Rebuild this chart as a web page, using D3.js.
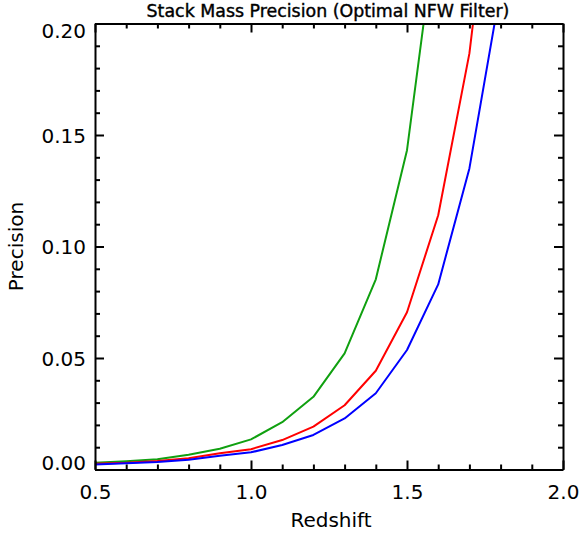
<!DOCTYPE html>
<html>
<head>
<meta charset="utf-8">
<script src="https://cdn.jsdelivr.net/npm/d3@7"></script>
<style>
  html, body { margin: 0; padding: 0; background: #fff; }
  svg { display: block; }
  text { font-family: "DejaVu Sans", sans-serif; fill: #000; }
</style>
</head>
<body>
<svg id="chart" width="581" height="533"></svg>
<script>
// ---- data ----
const redshift = [0.5, 0.6, 0.7, 0.8, 0.9, 1.0, 1.1, 1.2, 1.3, 1.4, 1.5, 1.6, 1.7, 1.8];
const greenPrecision = [0.0030, 0.0037, 0.0046, 0.0066, 0.0093, 0.0135, 0.0212, 0.0326, 0.0521, 0.0853, 0.1432, 0.2500];
const redPrecision   = [0.0026, 0.0030, 0.0038, 0.0050, 0.0073, 0.0091, 0.0132, 0.0192, 0.0288, 0.0443, 0.0705, 0.1140, 0.1866, 0.3030];
const bluePrecision  = [0.0022, 0.0028, 0.0034, 0.0044, 0.0062, 0.0077, 0.0110, 0.0155, 0.0229, 0.0342, 0.0536, 0.0830, 0.1350, 0.2155];
const xMajorTicks = [0.5, 1.0, 1.5, 2.0];
const xTickLabels = ["0.5", "1.0", "1.5", "2.0"];
const yMajorTicks = [0.00, 0.05, 0.10, 0.15, 0.20];
const yTickLabels = ["0.00", "0.05", "0.10", "0.15", "0.20"];
const titleText = "Stack Mass Precision (Optimal NFW Filter)";
const xTitle = "Redshift";
const yTitle = "Precision";

const seriesList = [
  { name: "green", values: greenPrecision, color: "#10a010" },
  { name: "red",   values: redPrecision,   color: "#ff0000" },
  { name: "blue",  values: bluePrecision,  color: "#0000ff" }
];

// ---- layout ----
const L = 95, R = 563, T = 23.5, B = 469.5;
const svg = d3.select("#chart");
const x = d3.scaleLinear().domain([0.5, 2.0]).range([L, R]);
const y = d3.scaleLinear().domain([0, 0.2]).range([B, T]);

const xMinor = d3.range(0.5, 2.0001, 0.1).map(v => +v.toFixed(2)).filter(v => !xMajorTicks.includes(v));
const yMinor = d3.range(0, 0.2001, 0.01).map(v => +v.toFixed(3)).filter(v => !yMajorTicks.some(m => Math.abs(m - v) < 1e-9));

svg.append("defs").append("clipPath").attr("id", "plotclip")
  .append("rect").attr("x", L).attr("y", T).attr("width", R - L).attr("height", B - T);

// data lines
const line = d3.line().x((d, i) => x(redshift[i])).y(d => y(d));
const gLines = svg.append("g").attr("clip-path", "url(#plotclip)");
seriesList.forEach(s => {
  gLines.append("path").datum(s.values)
    .attr("d", line)
    .attr("fill", "none")
    .attr("stroke", s.color)
    .attr("stroke-width", 2)
    .attr("stroke-linejoin", "round");
});

function styleAxis(g) {
  g.selectAll("path.domain").attr("stroke", "#000").attr("stroke-width", 2);
  g.selectAll(".tick line").attr("stroke", "#000").attr("stroke-width", 2);
  g.selectAll("text").attr("font-size", 20).attr("font-family", "DejaVu Sans, sans-serif");
}

// bottom axis
const gBottom = svg.append("g").attr("transform", `translate(0,${B})`)
  .call(d3.axisBottom(x).tickValues(xMajorTicks).tickSize(-9).tickSizeOuter(0).tickPadding(15)
    .tickFormat((d, i) => xTickLabels[i]));
styleAxis(gBottom);
svg.append("g").attr("transform", `translate(0,${B})`)
  .call(d3.axisBottom(x).tickValues(xMinor).tickSize(-5).tickSizeOuter(0).tickFormat(""))
  .call(styleAxis).select("path.domain").remove();

// top axis
svg.append("g").attr("transform", `translate(0,${T})`)
  .call(d3.axisTop(x).tickValues(xMajorTicks).tickSize(-9).tickSizeOuter(0).tickFormat(""))
  .call(styleAxis);
svg.append("g").attr("transform", `translate(0,${T})`)
  .call(d3.axisTop(x).tickValues(xMinor).tickSize(-5).tickSizeOuter(0).tickFormat(""))
  .call(styleAxis).select("path.domain").remove();

// left axis
const gLeft = svg.append("g").attr("transform", `translate(${L},0)`)
  .call(d3.axisLeft(y).tickValues(yMajorTicks).tickSize(-9).tickSizeOuter(0).tickPadding(9)
    .tickFormat((d, i) => yTickLabels[i]));
styleAxis(gLeft);
gLeft.selectAll(".tick text").attr("dy", d => d === 0 ? "0.02em" : (d === 0.2 ? "0.72em" : "0.35em"));
svg.append("g").attr("transform", `translate(${L},0)`)
  .call(d3.axisLeft(y).tickValues(yMinor).tickSize(-5).tickSizeOuter(0).tickFormat(""))
  .call(styleAxis).select("path.domain").remove();

// right axis
svg.append("g").attr("transform", `translate(${R},0)`)
  .call(d3.axisRight(y).tickValues(yMajorTicks).tickSize(-9).tickSizeOuter(0).tickFormat(""))
  .call(styleAxis);
svg.append("g").attr("transform", `translate(${R},0)`)
  .call(d3.axisRight(y).tickValues(yMinor).tickSize(-5).tickSizeOuter(0).tickFormat(""))
  .call(styleAxis).select("path.domain").remove();

// titles
svg.append("text").attr("x", (L + R) / 2 - 1).attr("y", 16.7)
  .attr("text-anchor", "middle").attr("font-size", 17.4)
  .attr("stroke", "#000").attr("stroke-width", 0.4).text(titleText);
svg.append("text").attr("x", (L + R) / 2 + 2).attr("y", 527)
  .attr("text-anchor", "middle").attr("font-size", 20).text(xTitle);
svg.append("text").attr("transform", `translate(23,${(T + B) / 2}) rotate(-90)`)
  .attr("text-anchor", "middle").attr("font-size", 20).text(yTitle);
</script>
</body>
</html>
